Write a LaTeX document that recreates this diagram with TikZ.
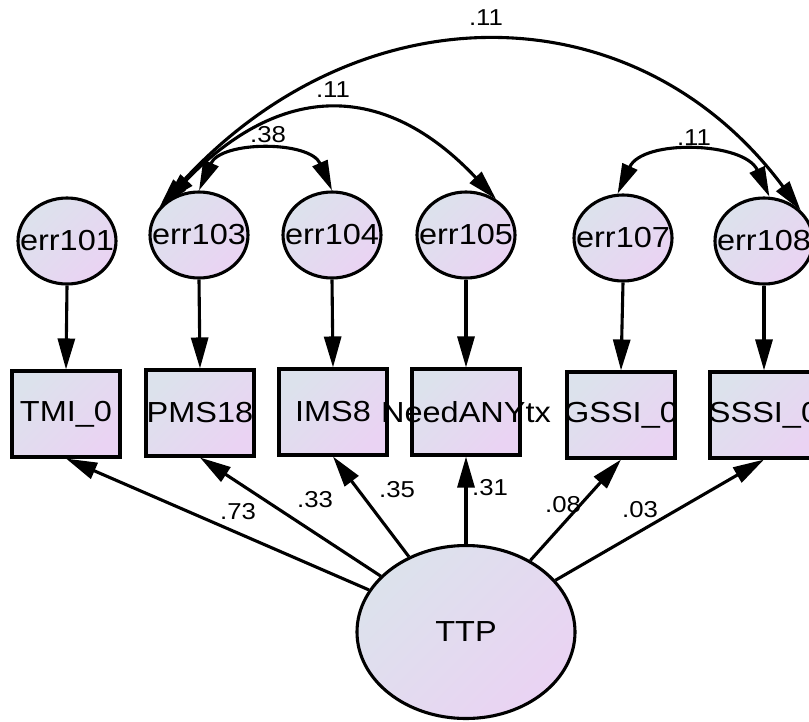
\documentclass[tikz,border=0pt]{standalone}
\usepackage{fontspec}
\usepackage{tikz}
\usetikzlibrary{arrows.meta, shapes.geometric}
\newfontfamily\amosfont[FakeStretch=1.12]{Liberation Sans}
\definecolor{amosgray}{RGB}{220, 226, 236}
\definecolor{amoslilac}{RGB}{234, 211, 243}
\newcommand{\vname}[1]{\makebox[0pt]{#1}}

\begin{document}
\begin{tikzpicture}[x=1pt,y=-1pt,
    varfill/.style={draw,line width=3.1pt,inner sep=0pt,
      top color=amosgray,bottom color=amoslilac,shading angle=45,
      font=\amosfont\fontsize{29}{30}\selectfont},
    errvar/.style={varfill,ellipse,minimum width=98pt,minimum height=86pt},
    obsvar/.style={varfill,rectangle,minimum width=108pt,minimum height=86pt},
    latvar/.style={varfill,ellipse,minimum width=218pt,minimum height=173pt},
    reg/.style={-{Triangle[length=31pt,width=17pt]},line width=3.1pt},
    cov/.style={{Triangle[length=30pt,width=16pt]}-{Triangle[length=30pt,width=16pt]},line width=3.1pt},
    coef/.style={inner sep=0pt,font=\amosfont\fontsize{23}{24}\selectfont}]
  \useasboundingbox (0,0) rectangle (809,721);
  % error terms
  \node[errvar] (e101) at (67,241) {\vname{err101}};
  \node[errvar] (e103) at (199,235) {\vname{err103}};
  \node[errvar] (e104) at (332,235) {\vname{err104}};
  \node[errvar] (e105) at (466,235) {\vname{err105}};
  \node[errvar] (e107) at (623,238) {\vname{err107}};
  \node[errvar] (e108) at (764,241) {\vname{err108}};
  % observed variables
  \node[obsvar] (tmi) at (66,414) {\vname{TMI\_0}};
  \node[obsvar] (pms) at (200,413) {\vname{PMS18}};
  \node[obsvar] (ims) at (333,412) {\vname{IMS8}};
  \node[obsvar] (need) at (466,412) {\vname{NeedANYtx}};
  \node[obsvar] (gssi) at (621,415) {\vname{GSSI\_0}};
  \node[obsvar] (sssi) at (764,415) {\vname{SSSI\_0}};
  % latent factor
  \node[latvar] (ttp) at (466,632) {\vname{TTP}};

  \foreach \e/\o in {e101/tmi,e103/pms,e104/ims,e105/need,e107/gssi,e108/sssi}
    \draw[reg] (\e.south) -- (\o.north);
  \foreach \o in {tmi,pms,ims,need,gssi,sssi}
    \draw[reg] (ttp) -- (\o.south);

  % covariances
  \draw[cov] (e103.north) .. controls +(22,-50) and +(-22,-50) .. (e104.north);
  \draw[cov] (e103.135) .. controls +(115,-119) and +(-112,-119) .. (e105.50);
  \draw[cov] (e103.145) .. controls +(198,-220) and +(-165,-222) .. (e108.40);
  \draw[cov] (e107.97) .. controls +(25,-55) and +(-25,-55) .. (e108.83);

  \node[coef] (c34) at (268,135) {.38};
  \node[coef] (c35) at (333,90) {.11};
  \node[coef] (c38) at (486,18) {.11};
  \node[coef] (c78) at (694,138) {.11};
  \node[coef] (ltmi) at (238,512) {.73};
  \node[coef] (lpms) at (315,500) {.33};
  \node[coef] (lims) at (397,490) {.35};
  \node[coef] (lneed) at (490,488) {.31};
  \node[coef] (lgssi) at (563,505) {.08};
  \node[coef] (lsssi) at (640,510) {.03};
\end{tikzpicture}
\end{document}
